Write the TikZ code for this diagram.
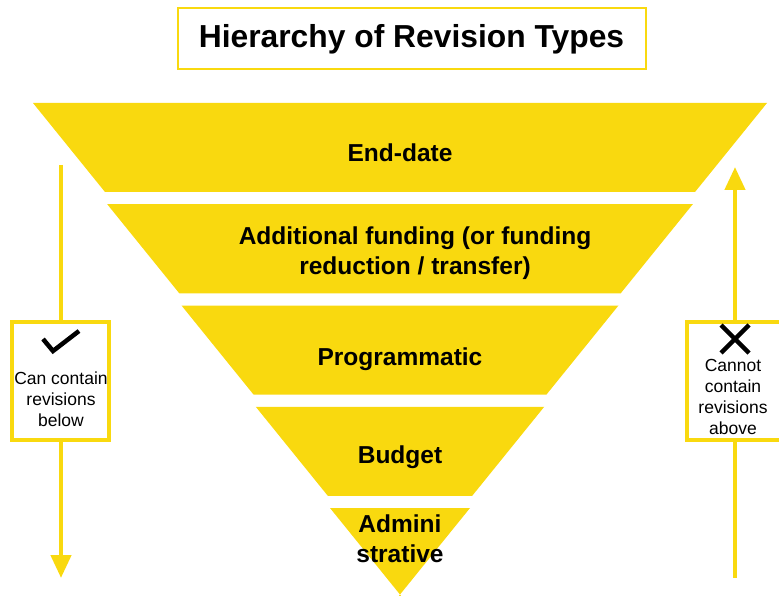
\documentclass[tikz,border=0pt]{standalone}
\usepackage{fontspec}
\setmainfont{Liberation Sans}
\usetikzlibrary{arrows.meta}
\definecolor{revyellow}{RGB}{249,217,15}

\begin{document}
\begin{tikzpicture}[x=1pt,y=-1pt,
    level/.style={font=\bfseries\fontsize{24.5}{30}\selectfont, align=center, inner sep=0pt},
    sidebox/.style={draw=revyellow, line width=4pt, fill=white, minimum width=97pt, minimum height=118pt, inner sep=0pt},
    sidetext/.style={font=\fontsize{17.5}{21}\selectfont, align=center, inner sep=0pt},
    sidearrow/.style={revyellow, line width=4.5pt, -{Triangle[width=20pt,length=23pt]}},
    tickmark/.style={line width=4.5pt, black}]
    \useasboundingbox (0,0) rectangle (779,596);
    % title
    \node[draw=revyellow, line width=2pt, minimum width=468pt, minimum height=61pt,
          font=\bfseries\fontsize{31.8}{36}\selectfont] (title) at (411.5,39) {Hierarchy of Revision Types};
    % funnel
    \foreach \i in {0,...,4} {
        \pgfmathsetmacro{\ytop}{103+101.25*\i}
        \pgfmathsetmacro{\ybot}{\ytop+89}
        \pgfmathsetmacro{\hw}{367-74.25*\i}
        \fill[revyellow] (400-\hw,\ytop) -- (400+\hw,\ytop) -- (400+\hw-72,\ybot) -- (400-\hw+72,\ybot) -- cycle;
    }
    \node[level] (enddate) at (400,153) {End-date};
    \node[level] (funding) at (415,253) {Additional funding (or funding\\reduction / transfer)};
    \node[level] (prog) at (400,359) {Programmatic};
    \node[level] (budget) at (400,457) {Budget};
    \node[level] (admin) at (400,539) {Admini\\strative};
    % left arrow
    \coordinate (ltop) at (61,165);
    \coordinate (lbot) at (61,578);
    \draw[sidearrow] (ltop) -- (lbot);
    \node[sidebox] (canbox) at (60.5,381) {};
    \draw[tickmark] (43,339) -- (53,351) -- (79,331);
    \node[sidetext] (cantext) at (61,399) {Can contain\\revisions\\below};
    % right arrow
    \coordinate (rbot) at (735,578);
    \coordinate (rtop) at (735,167);
    \draw[sidearrow] (rbot) -- (rtop);
    \node[sidebox] (cannotbox) at (735,381) {};
    \draw[tickmark] (721,325) -- (749,353) (749,325) -- (721,353);
    \node[sidetext] (cannottext) at (733,396.5) {Cannot\\contain\\revisions\\above};
\end{tikzpicture}
\end{document}
